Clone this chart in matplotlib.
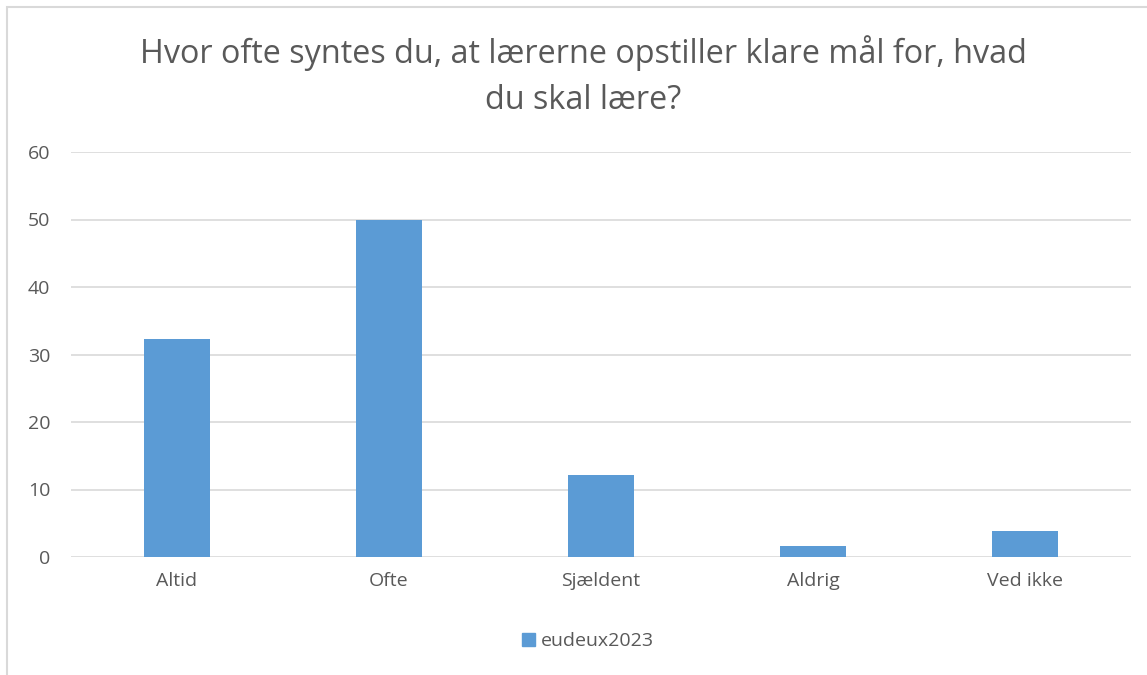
import matplotlib
matplotlib.use("Agg")
import matplotlib.pyplot as plt
from matplotlib.patches import Rectangle, Patch

categories = ["Altid", "Ofte", "Sjældent", "Aldrig", "Ved ikke"]
values = [32.3, 49.9, 12.2, 1.6, 3.9]
series_name = "eudeux2023"
yticks = [0, 10, 20, 30, 40, 50, 60]
title = "Hvor ofte syntes du, at lærerne opstiller klare mål for, hvad\ndu skal lære?"

plt.rcParams['font.family'] = ['Open Sans', 'DejaVu Sans']
W, H = 1147, 675
fig = plt.figure(figsize=(W/100, H/100), dpi=100)
ax = fig.add_axes([71/W, 1-557/H, (1131-71)/W, (557-152)/H])

bar_color = "#5B9BD5"
text_color = "#595959"
x = range(len(categories))
ax.bar(x, values, width=0.31, color=bar_color, zorder=3)
ax.set_xlim(-0.5, len(categories)-0.5)
ax.set_ylim(0, 60)
ax.set_yticks(yticks)
ax.set_xticks(list(x))
ax.set_xticklabels(categories)
ax.grid(axis='y', color="#D9D9D9", linewidth=1.2, zorder=0)
for s in ax.spines.values():
    s.set_visible(False)
ax.tick_params(axis='both', length=0, labelsize=14, colors=text_color)
ax.tick_params(axis='y', pad=15)
ax.tick_params(axis='x', pad=11)

fig.text(583/W, 1-76/H, title, ha='center', va='center', fontsize=23.3,
         color=text_color, linespacing=1.5)

fig.legend(handles=[Patch(color=bar_color, label=series_name)],
           loc='center', bbox_to_anchor=(588/W, 1-641/H), frameon=False,
           fontsize=14, labelcolor=text_color, handlelength=0.65,
           handleheight=0.65, handletextpad=0.3)

fig.patches.append(Rectangle((7/W, -0.1), 1.2, 1-7/H+0.1, transform=fig.transFigure,
                             fill=False, edgecolor="#D9D9D9", linewidth=1.5))

fig.savefig("out.png", dpi=100)
